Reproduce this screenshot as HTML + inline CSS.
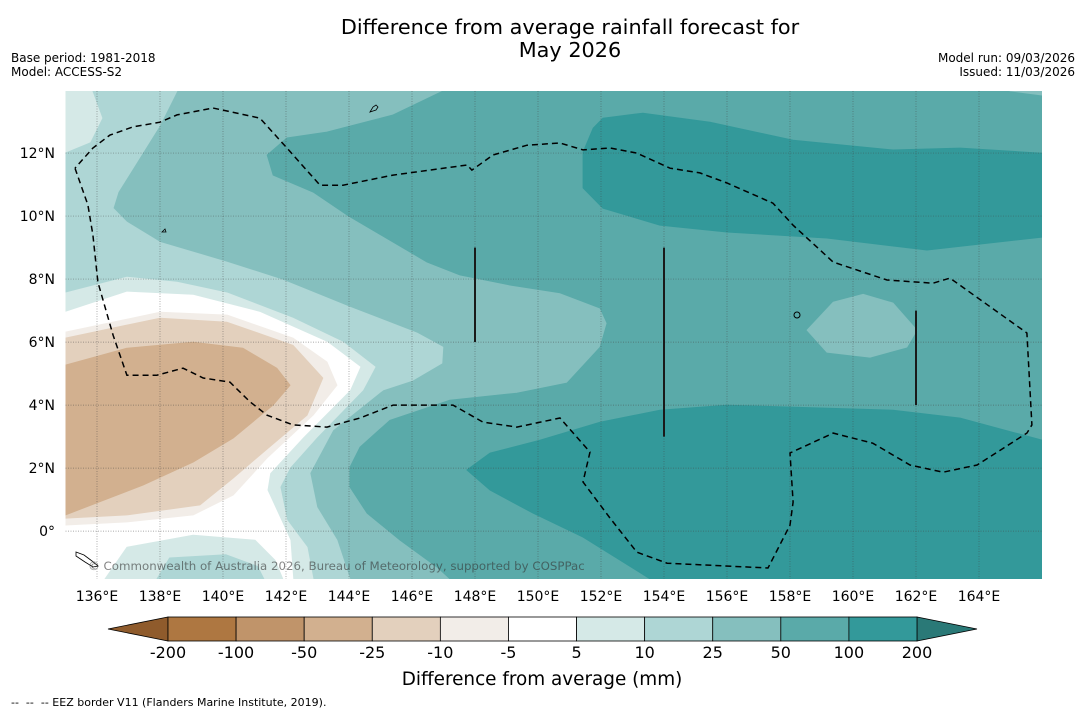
<!DOCTYPE html>
<html><head><meta charset="utf-8">
<style>
html,body{margin:0;padding:0;background:#fff;}
body{width:1085px;height:713px;overflow:hidden;font-family:"DejaVu Sans","Liberation Sans",sans-serif;}
svg text{font-family:"DejaVu Sans","Liberation Sans",sans-serif;}
</style></head>
<body>
<svg id="chart" width="1085" height="713" viewBox="0 0 1085 713" xmlns="http://www.w3.org/2000/svg">
  <text x="570" y="34" font-size="20.8" text-anchor="middle" fill="#000">Difference from average rainfall forecast for</text>
  <text x="570" y="57" font-size="20.8" text-anchor="middle" fill="#000">May 2026</text>
  <text x="11" y="62" font-size="12">Base period: 1981-2018</text>
  <text x="11" y="76" font-size="12">Model: ACCESS-S2</text>
  <text x="1075" y="62" font-size="12" text-anchor="end">Model run: 09/03/2026</text>
  <text x="1075" y="76" font-size="12" text-anchor="end">Issued: 11/03/2026</text>
  <defs><clipPath id="mapclip"><rect x="65.5" y="91" width="976.5" height="488"/></clipPath></defs>
  <g id="map" clip-path="url(#mapclip)"></g>
  <g id="axes"></g>
  <g id="cbar"></g>
  <text x="542" y="685" font-size="18.4" text-anchor="middle">Difference from average (mm)</text>
  <text x="11" y="706" font-size="11" style="white-space:pre" xml:space="preserve">--  --  -- EEZ border V11 (Flanders Marine Institute, 2019).</text>
</svg>
<script>
// ---- data ----
const lonTicks = [136,138,140,142,144,146,148,150,152,154,156,158,160,162,164];
const latTicks = [0,2,4,6,8,10,12];
const cbarLevels = ["-200","-100","-50","-25","-10","-5","5","10","25","50","100","200"];
const cbarColors = ["#ae7741","#c0946a","#d2b08f","#e3d0bd","#f2ede8","#ffffff","#d5e9e7","#aed6d5","#85bfbe","#5aaaa9","#33999a"];
const cbarUnder = "#8f5b2c";
const cbarOver = "#2a7977";

// contour regions: [lon,lat] points, painted in order
const band10to25 = [[135,13.97],[138.54,13.97],[138.0,12.89],[136.67,10.76],[136.51,10.25],[136.95,9.81],[138.0,9.17],[140.13,8.54],[141.9,7.97],[144.03,7.11],[146.16,6.29],[146.98,5.84],[146.95,5.33],[146.03,4.79],[145.08,4.48],[143.49,3.21],[142.76,1.84],[142.98,0.76],[143.62,-0.29],[144.03,-1.52],[135,-1.52]];
const band5to10Corner = [[135,13.97],[135.84,13.97],[136.16,13.11],[135.78,12.35],[135,12.03]];
const band5to10 = [[135,7.56],[136.95,8.06],[138.54,7.9],[140.13,7.56],[142.22,6.76],[143.81,6.0],[144.83,5.21],[144.44,4.48],[142.98,2.98],[142.13,2.03],[141.81,1.4],[142.03,0.35],[142.67,-0.51],[142.86,-1.52],[135,-1.52]];
const bandWhite = [[135,6.95],[136.95,7.59],[139.05,7.49],[141.17,6.95],[143.3,6.0],[144.35,5.21],[144.03,4.48],[142.54,2.98],[141.49,1.84],[141.4,1.3],[142.13,-0.29],[142.22,-1.52],[135,-1.52]];
const blob5to10 = [[136.25,-1.52],[136.95,-0.51],[139.05,-0.13],[141.02,-0.29],[141.65,-0.92],[141.9,-1.52]];
const blob10to25 = [[137.9,-1.52],[138.3,-0.85],[140.1,-0.75],[141.1,-1.12],[141.3,-1.52]];
const bandM5toM10 = [[135,6.32],[138.0,6.95],[140.13,6.86],[142.22,6.13],[143.3,5.37],[143.62,4.63],[142.86,3.68],[141.4,2.32],[140.32,1.14],[139.05,0.51],[136.95,0.29],[135,0.19]];
const bandM10toM25 = [[135,6.13],[138,6.76],[140.13,6.63],[142.22,5.9],[143.17,4.86],[142.67,3.68],[141.17,2.41],[140.32,1.68],[139.27,0.83],[136.95,0.51],[135,0.41]];
const bandM25toM50 = [[135,5.27],[136.95,5.81],[139.05,6.0],[140.63,5.81],[141.71,5.17],[142.13,4.63],[141.59,4.0],[140.32,2.95],[139.05,2.19],[137.46,1.46],[135,0.51]];
const band50to100 = [[146.98,13.97],[145.4,13.21],[143.3,12.67],[142.03,12.48],[141.4,11.94],[141.59,11.3],[142.86,10.76],[143.94,10.03],[145.4,9.17],[146.48,8.54],[147.52,8.13],[149.11,7.81],[150.7,7.56],[151.97,7.08],[152.19,6.6],[151.97,5.84],[150.92,4.7],[149.33,4.38],[147.2,4.16],[145.3,3.52],[144.35,2.67],[144.03,2.03],[144.03,1.4],[144.57,0.57],[145.62,-0.29],[146.79,-1.14],[147.21,-1.52],[166,-1.52],[166,13.97]];
const patch25to50Corner = [[164.98,13.97],[166,13.84],[166,13.97]];
const patch25to50East = [[158.54,6.38],[159.37,7.27],[160.32,7.52],[161.27,7.24],[162.03,6.38],[161.71,5.84],[160.54,5.52],[159.17,5.68]];
const band100to200North = [[151.75,12.79],[152.06,13.11],[153.33,13.27],[155.46,12.98],[158.1,12.41],[161.27,12.1],[163.4,12.16],[166,12.0],[166,9.33],[162.35,8.92],[159.17,9.3],[156.0,9.49],[153.87,9.71],[152.06,10.25],[151.43,10.89],[151.43,12.03]];
const band100to200South = [[147.74,1.94],[148.48,2.48],[150.06,2.89],[151.97,3.46],[153.87,3.84],[156.0,4.0],[161.27,3.84],[163.4,3.59],[166,2.89],[166,-1.52],[153.56,-1.52],[151.43,-0.19],[149.84,0.57],[148.48,1.3]];

const eezLine = [[135.3,11.52],[135.71,10.35],[135.87,9.4],[136.03,7.9],[136.51,6.22],[136.95,4.95],[137.9,4.95],[138.73,5.17],[139.37,4.86],[140.22,4.73],[140.86,4.1],[141.4,3.68],[142.22,3.37],[143.3,3.3],[144.35,3.59],[145.4,4.0],[147.3,4.0],[148.25,3.46],[149.33,3.3],[150.7,3.59],[151.65,2.51],[151.43,1.56],[152.29,0.41],[153.14,-0.67],[154.1,-1.02],[157.3,-1.17],[158.0,0.19],[158.1,0.92],[158.0,2.48],[159.37,3.11],[160.63,2.79],[161.81,2.1],[162.86,1.87],[163.94,2.1],[165.52,3.11],[165.68,3.37],[165.52,6.29],[163.08,8.03],[162.54,7.87],[161.08,7.97],[159.37,8.54],[158.1,9.71],[157.46,10.41],[156.0,11.05],[155.14,11.37],[154.19,11.52],[153.14,12.0],[152.29,12.16],[151.43,12.1],[150.7,12.32],[149.65,12.25],[148.57,11.94],[147.9,11.46],[147.75,11.62],[145.4,11.3],[143.81,10.98],[143.08,10.98],[142.03,12.16],[141.17,13.11],[139.68,13.43],[138.54,13.21],[138.0,12.98],[137.14,12.83],[136.41,12.57],[135.87,12.16],[135.3,11.52]];
const boundaryLons = [148,154,162];
const boundaryLatTop = [9,9,7];
const boundaryLatBottom = [6,3,4];

// ---- axes functions ----
const LON0=135, LON1=166, LAT0=-1.52, LAT1=13.97;
const X0=65.5, X1=1042, Y0=91, Y1=579;
const xs = lon => X0 + (lon-LON0)/(LON1-LON0)*(X1-X0);
const ys = lat => Y1 - (lat-LAT0)/(LAT1-LAT0)*(Y1-Y0);
const NS='http://www.w3.org/2000/svg';
function mk(tag, parent, attrs){const e=document.createElementNS(NS,tag);for(const k in attrs)e.setAttribute(k,attrs[k]);parent.appendChild(e);return e;}
const pts = arr => arr.map(p=>xs(p[0]).toFixed(1)+','+ys(p[1]).toFixed(1)).join(' ');

const map=document.getElementById('map');
let bg=mk('rect',map,{x:X0,y:Y0,width:X1-X0,height:Y1-Y0,fill:'#85bfbe'});



const layers=[
 [band10to25,'#aed6d5','band-10-to-25'],
 [band5to10Corner,'#d5e9e7','band-5-to-10-corner'],
 [band5to10,'#d5e9e7','band-5-to-10'],
 [bandWhite,'#ffffff','band-neutral'],
 [blob5to10,'#d5e9e7','blob-5-to-10'],
 [blob10to25,'#aed6d5','blob-10-to-25'],
 [bandM5toM10,'#f2ede8','band-minus5-to-minus10'],
 [bandM10toM25,'#e3d0bd','band-minus10-to-minus25'],
 [bandM25toM50,'#d2b08f','band-minus25-to-minus50'],
 [band50to100,'#5aaaa9','band-50-to-100'],
 [patch25to50Corner,'#85bfbe','patch-25-to-50-corner'],
 [patch25to50East,'#85bfbe','patch-25-to-50-east'],
 [band100to200North,'#33999a','band-100-to-200-north'],
 [band100to200South,'#33999a','band-100-to-200-south']
];
layers.forEach(L=>{
  const p=mk('polygon',map,{points:pts(L[0]),fill:L[1],stroke:L[1],'stroke-width':0.8,'stroke-linejoin':'round'});
  
  
});
// grid
lonTicks.forEach(lon=>{
  const l=mk('line',map,{x1:xs(lon),x2:xs(lon),y1:Y0,y2:Y1,stroke:'#444','stroke-width':0.7,'stroke-dasharray':'1,1.5','stroke-opacity':0.6});
  
  
});
latTicks.forEach(lat=>{
  const l=mk('line',map,{x1:X0,x2:X1,y1:ys(lat),y2:ys(lat),stroke:'#444','stroke-width':0.7,'stroke-dasharray':'1,1.5','stroke-opacity':0.6});
  
  
});
// EEZ
const eez=mk('polyline',map,{points:pts(eezLine),fill:'none',stroke:'#000','stroke-width':1.5,'stroke-dasharray':'6,4'});


boundaryLons.forEach((lon,i)=>{
  const l=mk('line',map,{x1:xs(lon),x2:xs(lon),y1:ys(boundaryLatTop[i]),y2:ys(boundaryLatBottom[i]),stroke:'#1a1a1a','stroke-width':2});
  
  
});
// islands (small)
const isl=mk('path',map,{d:'M370,112 l3,-5 l3,-2 l2,2 l-2,3 l-3,1 z M76,552 l8,3 l8,6 l6,5 l-5,1 l-8,-5 l-9,-6 z M162,232 l3,-3 l1,3 z',fill:'none',stroke:'#000','stroke-width':0.8});


const ring=mk('circle',map,{cx:797,cy:315,r:3,fill:'none',stroke:'#000','stroke-width':1});


const cr=mk('text',map,{x:88,y:570,'font-size':11.8,fill:'#333','fill-opacity':0.6});
cr.textContent='© Commonwealth of Australia 2026, Bureau of Meteorology, supported by COSPPac';



// axes labels
const axes=document.getElementById('axes');
lonTicks.forEach(lon=>{
  const t=mk('text',axes,{x:xs(lon),y:601,'font-size':14,'text-anchor':'middle'});
  t.textContent=lon+'°E';
  
  
});
latTicks.forEach(lat=>{
  const t=mk('text',axes,{x:55,y:ys(lat)+5,'font-size':14,'text-anchor':'end'});
  t.textContent=lat===0?'0°':lat+'°N';
  
  
});

// colorbar
const cb=document.getElementById('cbar');
const CB0=168, CB1=917, CBT=617, CBB=641;
const w=(CB1-CB0)/cbarColors.length;
const under=mk('polygon',cb,{points:`108,629 ${CB0},${CBT} ${CB0},${CBB}`,fill:cbarUnder,stroke:'#000','stroke-width':0.8});


const over=mk('polygon',cb,{points:`977,629 ${CB1},${CBT} ${CB1},${CBB}`,fill:cbarOver,stroke:'#000','stroke-width':0.8});


cbarColors.forEach((c,i)=>{
  const r=mk('rect',cb,{x:CB0+i*w,y:CBT,width:w,height:CBB-CBT,fill:c,stroke:'#000','stroke-width':0.8});
  
  
});
cbarLevels.forEach((lv,i)=>{
  const t=mk('text',cb,{x:CB0+i*w,y:658,'font-size':16,'text-anchor':'middle'});
  t.textContent=lv;
  
  
});
</script>
</body></html>
